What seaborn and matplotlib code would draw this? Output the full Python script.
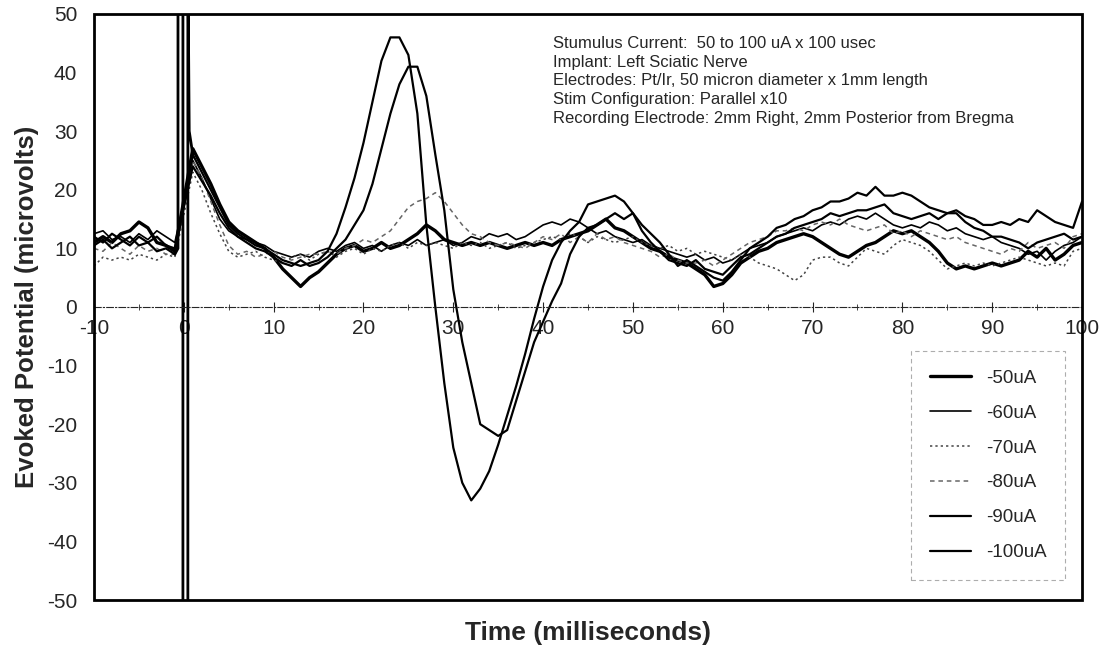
import numpy as np
import pandas as pd
import matplotlib
matplotlib.use("Agg")
import matplotlib.pyplot as plt
import matplotlib.patches as mpatches
import seaborn as sns

# sampling grid (ms), stimulus at 0
time = list(range(-10, 0)) + list(range(1, 101))

uA_50 = [11, 12, 11, 12.5, 13, 14.5, 13.5, 11, 10.5, 9.5,
         27, 24, 21, 17.5, 14.5, 13, 12, 11, 10, 8.5,
         6.5, 5, 3.5, 5, 6, 7.5, 9, 10, 10.5, 9.5,
         10, 11, 10, 10.5, 11.5, 12.5, 14, 13, 11.5, 11,
         10.5, 11, 10.5, 11, 10.5, 10, 10.5, 11, 10.5, 11,
         10.5, 11.5, 12, 12.5, 13, 14, 15, 13.5, 13, 12,
         11, 10, 9.5, 8.5, 8, 7.5, 6.5, 5.5, 3.5, 4,
         5.5, 7.5, 8.5, 9.5, 10, 11, 11.5, 12, 12.5, 12,
         11, 10, 9, 8.5, 9.5, 10.5, 11, 12, 13, 12.5,
         13, 12, 11, 9.5, 7.5, 6.5, 7, 6.5, 7, 7.5,
         7, 7.5, 8, 9.5, 8.5, 10, 8, 9, 10.5, 11]

uA_60 = [12.5, 13, 11.5, 12, 11, 12.5, 11.5, 13, 12, 11,
         25, 22, 18.5, 15, 13, 12, 11.5, 11, 10.5, 9.5,
         9, 8.5, 9, 8.5, 9.5, 10, 9.5, 10.5, 11, 10,
         10.5, 9.5, 10.5, 11, 10.5, 11.5, 10.5, 11, 11.5, 10.5,
         11, 12, 11.5, 12.5, 12, 12.5, 11.5, 12, 13, 14,
         14.5, 14, 15, 14.5, 13.5, 12.5, 13, 12, 11.5, 11,
         11.5, 10.5, 10, 9.5, 9, 8.5, 9, 8, 8.5, 7.5,
         8, 9, 10, 10.5, 11, 12, 12.5, 13, 13.5, 13,
         14, 14.5, 14, 15, 15.5, 15, 16, 15, 14, 13.5,
         14, 13.5, 14.5, 14, 13, 13.5, 12.5, 12, 11.5, 12,
         11, 10.5, 10, 9, 9.5, 8, 9.5, 10.5, 11, 12]

uA_70 = [7, 8.5, 8, 8.5, 8, 9, 8.5, 8, 9, 8.5,
         23, 20, 16, 12.5, 9.5, 8.5, 9, 9.5, 8.5, 8,
         7.5, 8.5, 9, 8, 9, 9.5, 8.5, 9.5, 10, 9,
         10, 9.5, 10.5, 11, 10, 11, 10.5, 11, 10.5, 10,
         11, 10.5, 11, 10, 10.5, 11, 10, 10.5, 11, 11.5,
         12, 11.5, 12.5, 12, 11, 12, 11.5, 11, 11.5, 12,
         11, 10.5, 10, 10.5, 9.5, 10, 9, 9.5, 9, 8.5,
         8, 9, 8.5, 7.5, 7, 6.5, 5.5, 4.5, 5.5, 8,
         8.5, 8.5, 7.5, 7, 8.5, 10, 9.5, 9, 10.5, 11.5,
         11, 10.5, 9.5, 8, 6.5, 7, 7.5, 7, 7.5, 7,
         7.5, 8, 8.5, 8, 7.5, 7, 7.5, 7, 9.5, 10]

uA_80 = [10, 9.5, 11, 10, 9, 10.5, 9.5, 10, 9, 9,
         25, 22, 18, 14, 10.5, 9, 9.5, 8.5, 9, 9.5,
         8.5, 8, 8.5, 9, 9, 9.5, 9, 10, 10.5, 11.5,
         11, 12, 13, 15, 17, 18, 18.5, 19.5, 18, 16,
         14, 12.5, 12, 11, 10.5, 11, 10.5, 10, 11, 12,
         11.5, 12.5, 11, 12, 11, 12.5, 11.5, 12, 11, 10.5,
         10, 9.5, 8.5, 9, 8, 7.5, 7.5, 8, 7, 8,
         9, 10, 11, 11.5, 12, 13, 13, 13.5, 13, 14,
         14.5, 14, 15, 14, 13.5, 13, 13.5, 14, 12.5, 13,
         12, 13, 12.5, 12, 11.5, 12, 11, 10.5, 10, 9.5,
         9, 10, 9.5, 11, 10, 10.5, 11, 10, 12, 12.5]

uA_90 = [12, 11, 12.5, 11.5, 10.5, 12, 11, 12, 10.5, 10,
         24, 21.5, 19, 16, 13.5, 12, 11, 10, 9.5, 8.5,
         7.5, 7, 8, 7, 7.5, 8.5, 10, 11.5, 14, 16.5,
         21, 27, 33, 38, 41, 41, 36, 26, 16.5, 3,
         -6, -13, -20, -21, -22, -21, -16, -11, -6, -2.5,
         1, 4, 9, 12, 13.5, 14, 15, 16, 15, 16,
         13, 11, 9.5, 8, 7.5, 7, 8, 6.5, 6, 5.5,
         7, 8.5, 9, 10, 11, 12, 12.5, 13.5, 14, 14.5,
         15, 16, 15.5, 16, 16.5, 16.5, 17, 17.5, 16, 15.5,
         15, 15.5, 16, 15, 16, 16, 14.5, 13.5, 13, 12,
         12, 11.5, 11, 10, 11, 11.5, 12, 12.5, 11.5, 12]

uA_100 = [10.5, 11.5, 10, 11, 12, 10.5, 11, 9.5, 10, 9,
          26, 23, 20, 17, 14, 12.5, 11.5, 10.5, 10, 9,
          8, 7.5, 7, 7.5, 8, 9.5, 12.5, 17, 22, 28,
          35, 42, 46, 46, 43, 33, 14, 0, -13, -24,
          -30, -33, -31, -28, -23.5, -18.5, -13.5, -8, -2, 3.5,
          8, 11, 13, 14.5, 17.5, 18, 18.5, 19, 18, 16,
          14, 12.5, 11, 9, 7, 8, 7, 6, 5, 4.5,
          6, 8, 10, 11, 12, 13.5, 14, 15, 15.5, 16.5,
          17, 18, 18, 18.5, 19.5, 19, 20.5, 19, 19, 19.5,
          19, 18, 17, 16.5, 16, 16.5, 15.5, 15, 14, 14,
          14.5, 14, 15, 14.5, 16.5, 15.5, 14.5, 14, 13.5, 18]

# stimulus artifact (saturated, runs off the scale)
artifact_t = [-1, -0.65, -0.65, -0.1, -0.1, 0.45, 0.45, 0.6, 1]
artifact_v = [9, 10, 60, 60, -60, -60, 60, 30, 26]

labels = ["-50uA", "-60uA", "-70uA", "-80uA", "-90uA", "-100uA"]
series = [uA_50, uA_60, uA_70, uA_80, uA_90, uA_100]
styles = {"-50uA": dict(color="black", lw=2.4, ls="-"),
          "-60uA": dict(color="black", lw=1.2, ls="-"),
          "-70uA": dict(color="#444444", lw=1.1, ls=(0, (1.5, 2))),
          "-80uA": dict(color="#666666", lw=1.1, ls=(0, (3, 2.5))),
          "-90uA": dict(color="black", lw=1.6, ls="-"),
          "-100uA": dict(color="black", lw=1.6, ls="-")}

info_text = ("Stumulus Current:  50 to 100 uA x 100 usec\n"
             "Implant: Left Sciatic Nerve\n"
             "Electrodes: Pt/Ir, 50 micron diameter x 1mm length\n"
             "Stim Configuration: Parallel x10\n"
             "Recording Electrode: 2mm Right, 2mm Posterior from Bregma")

sns.set_style("white")
plt.rcParams['font.family'] = ['Liberation Sans', 'DejaVu Sans']
plt.rcParams['axes.unicode_minus'] = False

fig = plt.figure(figsize=(11.02, 6.49), dpi=100)
ax = fig.add_axes([0.0853, 0.0755, 0.8966, 0.903])

df = pd.DataFrame({"time": np.tile(time, len(labels)),
                   "value": np.concatenate(series),
                   "stim": np.repeat(labels, len(time))})

for lab in labels:
    sub = df[df["stim"] == lab]
    st = styles[lab]
    sns.lineplot(data=sub, x="time", y="value", ax=ax, color=st["color"],
                 linewidth=st["lw"], linestyle=st["ls"], label=lab,
                 sort=False, estimator=None)

sns.lineplot(x=artifact_t, y=artifact_v, ax=ax, color="black", linewidth=2.0,
             sort=False, estimator=None, legend=False)

ax.set_xlim(-10, 100)
ax.set_ylim(-50, 50)
ax.set_xticks(range(-10, 101, 10))
ax.set_yticks(range(-50, 51, 10))
ax.set_xticks(np.arange(-10, 101, 5), minor=True)

# x axis drawn through zero, frame drawn separately
ax.spines['bottom'].set_position(('data', 0))
ax.spines['bottom'].set_linestyle((0, (6, 2, 1, 2)))
ax.spines['bottom'].set_linewidth(0.8)
ax.spines['top'].set_visible(False)
ax.spines['left'].set_visible(False)
ax.spines['right'].set_visible(False)
ax.add_patch(mpatches.Rectangle((0, 0), 1, 1, transform=ax.transAxes, fill=False,
                                edgecolor="black", lw=2.0, clip_on=False, zorder=5))

ax.tick_params(axis='x', which='major', direction='inout', length=7, width=0.8,
               labelsize=15, pad=5, bottom=True)
ax.tick_params(axis='x', which='minor', direction='inout', length=4, width=0.6, bottom=True)
ax.tick_params(axis='y', length=0, labelsize=15, pad=12)

ax.set_xlabel("")
ax.set_ylabel("Evoked Potential (microvolts)", fontsize=18.5, fontweight="bold", labelpad=6)
fig.text(0.5 * (0.0853 + 0.0853 + 0.8966), 0.025, "Time (milliseconds)", fontsize=19,
         fontweight="bold", ha="center", va="center")

ax.text(0.465, 0.962, info_text, transform=ax.transAxes, fontsize=12,
        va="top", ha="left", linespacing=1.3)

leg = ax.legend(loc="lower right", bbox_to_anchor=(0.983, 0.034), borderaxespad=0,
                fontsize=13.5, frameon=True, fancybox=False, edgecolor="#999999",
                handlelength=2.2, labelspacing=0.95, borderpad=1.0, handletextpad=0.8)
leg.get_frame().set_linestyle((0, (4, 3)))
leg.get_frame().set_linewidth(0.8)

plt.savefig("out.png", dpi=100)
